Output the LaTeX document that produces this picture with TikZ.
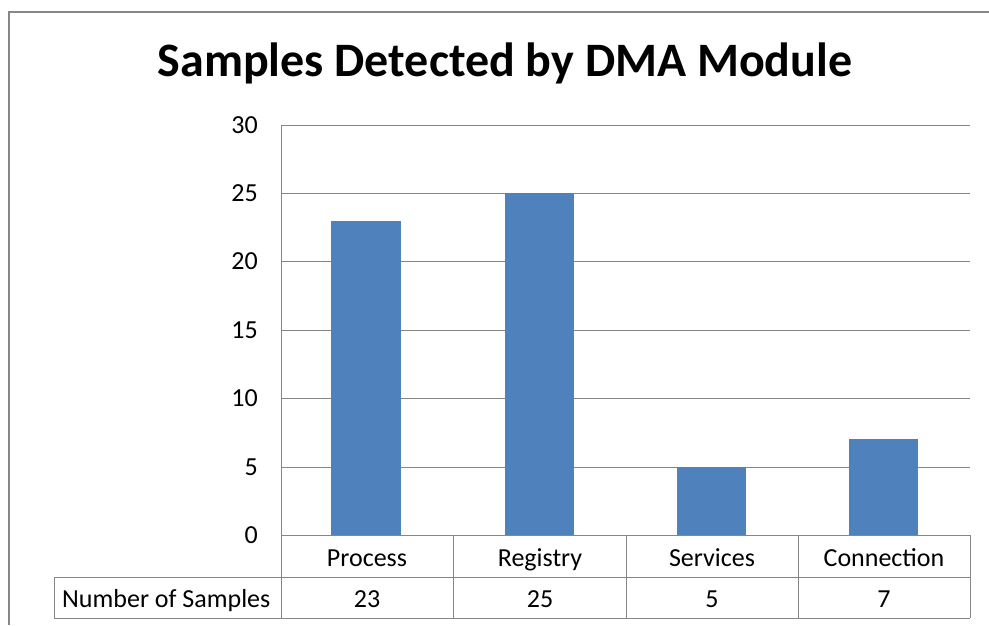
\documentclass[tikz,border=0pt]{standalone}
\usepackage{fontspec}
\setmainfont{Carlito}
\usetikzlibrary{positioning}
\definecolor{barblue}{RGB}{79, 129, 189}
\definecolor{gridgray}{RGB}{134, 134, 134}

\begin{document}
\begin{tikzpicture}[x=1pt, y=-1pt,
    gridline/.style={draw=gridgray, line width=1pt},
    bar/.style={fill=barblue, draw=none},
    ticklabel/.style={anchor=east, inner sep=0pt, font=\fontsize{26}{30}\selectfont},
    celltext/.style={anchor=base, inner sep=0pt, font=\fontsize{26}{30}\selectfont}]
  \useasboundingbox (0,0) rectangle (989,625);

  % Outer chart frame
  \draw[gridgray, line width=1.2pt] (9,625) -- (9,12) -- (989,12);

  % Title
  \node[font=\bfseries\fontsize{48}{54}\selectfont] (title) at (505,63) {Samples Detected by DMA Module};

  % Gridlines and value axis
  \foreach \v/\y in {0/535, 5/467, 10/398, 15/330, 20/261, 25/193, 30/125} {
    \draw[gridline] (281,\y) -- (970,\y);
    \node[ticklabel] (tick\v) at (258,\y) {\v};
  }

  % Bars
  \path[bar] (331,535) rectangle (401,221);
  \path[bar] (505,535) rectangle (574,193);
  \path[bar] (677,535) rectangle (746,467);
  \path[bar] (849,535) rectangle (918,439);

  % Data table
  \draw[gridline] (281,125) -- (281,618);
  \draw[gridline] (281,577) -- (970,577);
  \draw[gridline] (54,577) -- (54,618) -- (970,618);
  \draw[gridline] (54,577) -- (281,577);
  \foreach \x in {453, 626, 798, 970}
    \draw[gridline] (\x,535) -- (\x,618);

  \node[celltext] (process) at (367,566) {Process};
  \node[celltext] (registry) at (540,566) {Registry};
  \node[celltext] (services) at (712,566) {Services};
  \node[celltext] (connection) at (884,566) {Connection};

  \node[celltext, anchor=base west] (rowname) at (62,607) {Number of Samples};
  \node[celltext] (valprocess) at (367,607) {23};
  \node[celltext] (valregistry) at (540,607) {25};
  \node[celltext] (valservices) at (712,607) {5};
  \node[celltext] (valconnection) at (884,607) {7};
\end{tikzpicture}
\end{document}
